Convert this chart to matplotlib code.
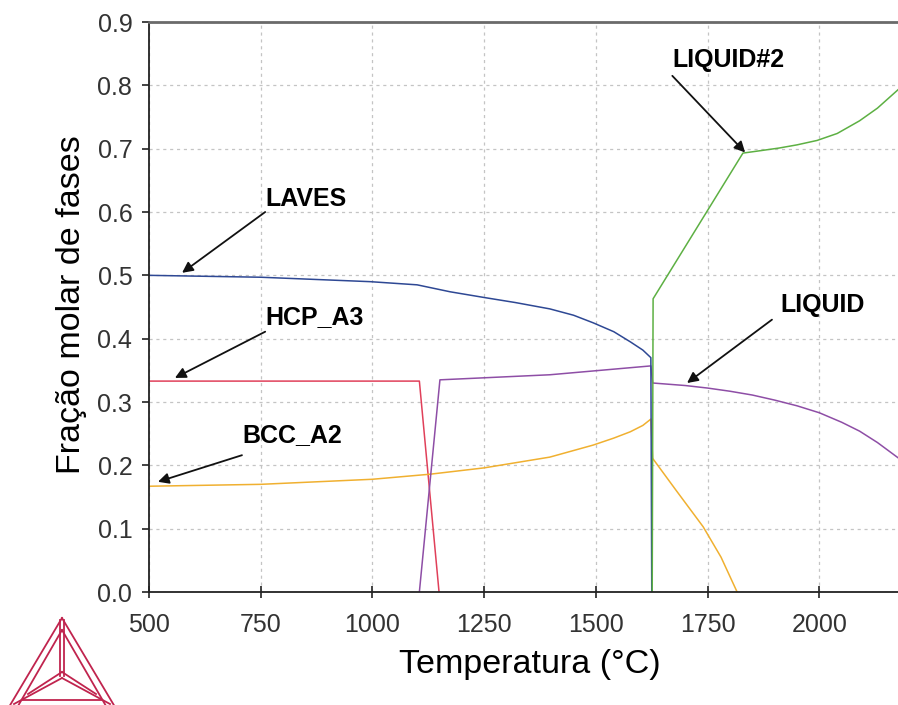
import matplotlib
matplotlib.use("Agg")
import matplotlib.pyplot as plt
from matplotlib.lines import Line2D

plt.rcParams['font.family'] = ['Liberation Sans', 'DejaVu Sans']

# ---------------- data ----------------
laves_T = [500, 750, 995, 1100, 1174, 1250, 1320, 1397, 1450, 1494, 1540, 1577, 1605, 1623, 1625]
laves_F = [0.500, 0.497, 0.490, 0.485, 0.474, 0.465, 0.457, 0.447, 0.437, 0.425, 0.411, 0.395, 0.382, 0.370, 0.0]

hcp_T = [500, 1105, 1149]
hcp_F = [0.333, 0.333, 0.0]

bcc_T = [500, 750, 1000, 1129, 1250, 1397, 1494, 1540, 1577, 1605, 1623, 1627, 1680, 1740, 1780, 1816]
bcc_F = [0.167, 0.170, 0.178, 0.186, 0.196, 0.213, 0.232, 0.243, 0.253, 0.263, 0.273, 0.211, 0.160, 0.103, 0.055, 0.0]

liq_T = [1105, 1151, 1397, 1623, 1627, 1700, 1750, 1800, 1850, 1900, 1950, 2000, 2050, 2090, 2130, 2176]
liq_F = [0.0, 0.335, 0.343, 0.357, 0.330, 0.326, 0.322, 0.317, 0.311, 0.303, 0.294, 0.283, 0.268, 0.254, 0.236, 0.212]

liq2_T = [1626, 1628, 1829, 1870, 1910, 1950, 1995, 2040, 2090, 2130, 2176]
liq2_F = [0.0, 0.463, 0.693, 0.697, 0.701, 0.706, 0.713, 0.724, 0.744, 0.764, 0.793]

x_ticks = [500, 750, 1000, 1250, 1500, 1750, 2000]
y_ticks = [0.0, 0.1, 0.2, 0.3, 0.4, 0.5, 0.6, 0.7, 0.8, 0.9]

labels = ["LAVES", "HCP_A3", "BCC_A2", "LIQUID#2", "LIQUID"]
label_text_pos = [(760, 0.621), (760, 0.434), (708, 0.248), (1671, 0.840), (1912, 0.453)]
label_tail = [(760, 0.600), (760, 0.411), (708, 0.216), (1671, 0.815), (1894, 0.430)]
label_head = [(574, 0.504), (558, 0.338), (520, 0.174), (1834, 0.694), (1704, 0.330)]

# ---------------- figure ----------------
W, H = 898, 705
fig = plt.figure(figsize=(W / 100, H / 100), dpi=100)
ax = fig.add_axes([149 / W, 113 / H, (W - 149) / W, 570 / H])

ax.plot(hcp_T, hcp_F, color='#E0405A', lw=1.1)
ax.plot(bcc_T, bcc_F, color='#F0B030', lw=1.1)
ax.plot(liq_T, liq_F, color='#8E4EA6', lw=1.1)
ax.plot(laves_T, laves_F, color='#2E4894', lw=1.1)
ax.plot(liq2_T, liq2_F, color='#5DB043', lw=1.1)

ax.set_xlim(500, 2176)
ax.set_ylim(0, 0.9)
ax.set_xticks(x_ticks)
ax.set_yticks(y_ticks)
ax.set_xticklabels([str(v) for v in x_ticks])
ax.set_yticklabels([f"{v:.1f}" for v in y_ticks])
ax.tick_params(axis='x', direction='inout', length=8, width=1.2, pad=11,
               labelsize=18, labelcolor='#333333', color='#222222')
ax.tick_params(axis='y', direction='out', length=5, width=1.2, pad=7,
               labelsize=18, labelcolor='#333333', color='#222222')

ax.grid(True, color='#c4c4c4', lw=0.9, linestyle=(0, (2.5, 3)))
ax.set_axisbelow(True)

for s in ['left', 'bottom']:
    ax.spines[s].set_color('#222222')
    ax.spines[s].set_linewidth(1.3)
ax.spines['top'].set_color('#6a6a6a')
ax.spines['top'].set_linewidth(2.0)
ax.spines['right'].set_visible(False)

for txt, tp, tail, head in zip(labels, label_text_pos, label_tail, label_head):
    ax.text(tp[0], tp[1], txt, fontsize=18, fontweight='bold', color='black',
            ha='left', va='center')
    ax.annotate('', xy=head, xytext=tail,
                arrowprops=dict(arrowstyle='-|>', color='#111111', lw=1.3,
                                mutation_scale=16, shrinkA=0, shrinkB=0))

fig.text(72 / W, 1 - 305 / H, "Fração molar de fases", rotation=90,
         fontsize=24.5, ha='center', va='center', color='black')
fig.text(530 / W, 1 - 673 / H, "Temperatura (°C)", fontsize=24.5,
         ha='center', va='baseline', color='black')

# ---------------- logo ----------------
def P(x, y):
    return (x / W, 1 - y / H)

logo_col = '#C0244E'
segs = [
    [(62, 618), (6, 712)], [(62, 618), (118, 712)],
    [(62, 630), (18, 706)], [(62, 630), (106, 706)],
    [(60, 620), (60, 676)], [(64, 620), (64, 676)],
    [(62, 678), (14, 704)], [(62, 678), (110, 704)],
    [(62, 672), (28, 694)], [(62, 672), (96, 694)],
    [(22, 700), (102, 700)],
]
for (a, b) in segs:
    pa, pb = P(*a), P(*b)
    fig.add_artist(Line2D([pa[0], pb[0]], [pa[1], pb[1]], transform=fig.transFigure,
                          color=logo_col, lw=1.3))

fig.savefig('out.png', dpi=100)
